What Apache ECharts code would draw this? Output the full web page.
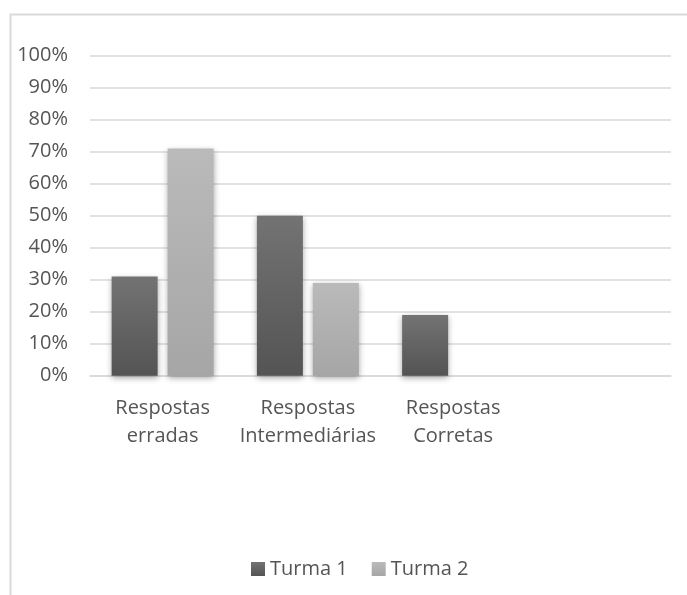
<!DOCTYPE html>
<html>
<head>
<meta charset="utf-8">
<script src="https://cdn.jsdelivr.net/npm/echarts@6/dist/echarts.min.js"></script>
<style>
  html, body { margin: 0; padding: 0; background: #ffffff; }
  #chart { width: 687px; height: 595px; }
</style>
</head>
<body>
<div id="chart"></div>
<script>
// Categories (the last slot is left empty on purpose)
const categories = ['Respostas\nerradas', 'Respostas\nIntermediárias', 'Respostas\nCorretas', ''];
// Share of answers per class, in percent
const turma1 = [31, 50, 19, null];
const turma2 = [71, 29, 0, null];
const seriesNames = ['Turma 1', 'Turma 2'];

const FONT = '"Open Sans", sans-serif';
const TEXT = '#555555';

function vGrad(top, bottom) {
  return new echarts.graphic.LinearGradient(0, 0, 0, 1, [
    { offset: 0, color: top },
    { offset: 1, color: bottom }
  ]);
}

const barStyle = (top, bottom) => ({
  color: vGrad(top, bottom),
  shadowBlur: 6,
  shadowOffsetY: 2,
  shadowColor: 'rgba(0,0,0,0.35)'
});

const chart = echarts.init(document.getElementById('chart'), null, { renderer: 'canvas' });

chart.setOption({
  animation: false,
  backgroundColor: '#ffffff',
  graphic: [{
    type: 'rect',
    left: 8, top: 12,
    shape: { width: 720, height: 620 },
    style: { fill: 'none', stroke: '#d9d9d9', lineWidth: 2 },
    silent: true,
    z: -1
  }],
  grid: { left: 90, right: 16, top: 55.7, height: 320, containLabel: false },
  legend: {
    left: 246,
    top: 554,
    itemWidth: 14,
    itemHeight: 14,
    itemGap: 24,
    icon: 'rect',
    textStyle: { fontFamily: FONT, fontSize: 20, color: TEXT },
    data: seriesNames
  },
  xAxis: {
    type: 'category',
    data: categories,
    axisLine: { show: true, lineStyle: { color: '#d9d9d9', width: 1.5 } },
    axisTick: { show: false },
    axisLabel: {
      interval: 0,
      margin: 19,
      fontFamily: FONT,
      fontSize: 20,
      lineHeight: 28,
      color: TEXT,
      align: 'center'
    }
  },
  yAxis: {
    type: 'value',
    min: 0,
    max: 100,
    interval: 10,
    axisLine: { show: false },
    axisTick: { show: false },
    splitLine: { lineStyle: { color: '#d9d9d9', width: 1.5 } },
    axisLabel: {
      formatter: '{value}%',
      margin: 22,
      fontFamily: FONT,
      fontSize: 20,
      color: TEXT
    }
  },
  series: [
    {
      name: seriesNames[0],
      type: 'bar',
      data: turma1,
      barWidth: 46,
      barGap: '21.7%',
      itemStyle: barStyle('#737373', '#545454')
    },
    {
      name: seriesNames[1],
      type: 'bar',
      data: turma2,
      barWidth: 46,
      barGap: '21.7%',
      itemStyle: barStyle('#bababa', '#a6a6a6')
    }
  ]
});
</script>
</body>
</html>
